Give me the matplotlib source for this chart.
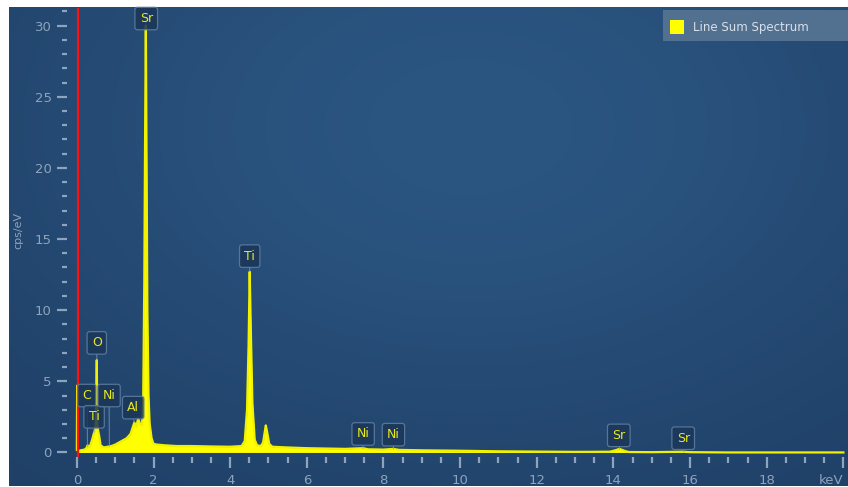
import matplotlib
matplotlib.use('Agg')
import matplotlib.pyplot as plt
from matplotlib.patches import Rectangle
import numpy as np

# spectrum (keV, cps/eV)
energy = [0.0, 0.008, 0.015, 0.025, 0.05, 0.1, 0.2, 0.25, 0.28, 0.31, 0.35, 0.40,
          0.45, 0.48, 0.50, 0.52, 0.535, 0.55, 0.58, 0.62, 0.7, 0.8, 0.9, 1.0,
          1.1, 1.2, 1.3, 1.4, 1.45, 1.5, 1.55, 1.6, 1.65, 1.7, 1.73, 1.76, 1.78,
          1.80, 1.82, 1.84, 1.87, 1.9, 1.95, 2.0, 2.1, 2.3, 2.6, 3.0, 3.5, 4.0,
          4.3, 4.38, 4.44, 4.48, 4.51, 4.54, 4.58, 4.64, 4.7, 4.8, 4.86, 4.90,
          4.93, 4.96, 5.02, 5.1, 5.5, 6.0, 7.0, 7.47, 7.6, 8.0, 8.26, 8.4, 9.0,
          10.0, 11.0, 12.0, 13.0, 13.9, 14.05, 14.16, 14.3, 14.4, 15.0, 15.8,
          16.0, 16.5, 17.0, 20.0]
counts = [0.2, 4.7, 0.4, 0.1, 0.1, 0.15, 0.2, 0.3, 0.5, 0.35, 0.5, 0.9,
          1.4, 1.6, 2.5, 6.5, 2.0, 1.6, 1.2, 0.5, 0.35, 0.4, 0.45, 0.55,
          0.7, 0.85, 1.0, 1.3, 1.7, 2.1, 1.8, 2.4, 2.0, 1.9, 3.5, 12.0, 22.0,
          30.0, 20.0, 10.0, 4.0, 2.0, 1.0, 0.6, 0.55, 0.5, 0.45, 0.45, 0.42, 0.4,
          0.45, 0.8, 3.0, 7.5, 12.7, 8.5, 3.5, 0.9, 0.5, 0.45, 0.7, 1.4,
          1.9, 1.5, 0.6, 0.4, 0.35, 0.3, 0.25, 0.3, 0.22, 0.2, 0.25, 0.18, 0.15,
          0.12, 0.08, 0.06, 0.04, 0.05, 0.15, 0.25, 0.1, 0.03, 0.02, 0.05,
          0.02, 0.01, 0.0, 0.0]

# element markers: text, box centre (keV, cps), tip of pointer (cps)
mark_text = ['Sr', 'Ti', 'O', 'C', 'Ti', 'Ni', 'Al', 'Ni', 'Ni', 'Sr', 'Sr']
mark_x = [1.81, 4.51, 0.52, 0.26, 0.45, 0.84, 1.47, 7.47, 8.26, 14.14, 15.82]
mark_y = [30.5, 13.8, 7.7, 4.0, 2.5, 4.0, 3.15, 1.3, 1.25, 1.2, 1.0]
tip_x = [1.80, 4.51, 0.52, 0.28, 0.45, 0.85, 1.49, 7.47, 8.26, 14.16, 15.84]
tip_y = [30.0, 12.7, 6.5, 0.4, 1.4, 0.45, 2.1, 0.3, 0.25, 0.25, 0.05]

x_major = [0, 2, 4, 6, 8, 10, 12, 14, 16, 18, 20]
x_labels = ['0', '2', '4', '6', '8', '10', '12', '14', '16', '18', 'keV']
y_major = [0, 5, 10, 15, 20, 25, 30]

W, H = 848, 487
fig = plt.figure(figsize=(W / 100, H / 100), dpi=100, facecolor='white')

# panel background with soft gradient
px0, py0, px1, py1 = 9, 7, 848, 486
bg = fig.add_axes([px0 / W, 1 - py1 / H, (px1 - px0) / W, (py1 - py0) / H])
gx, gy = np.meshgrid(np.linspace(0, 1, 300), np.linspace(0, 1, 200))
f = np.exp(-(((gx - 0.55) / 0.6) ** 2 + ((gy - 0.25) / 0.7) ** 2))
edge = np.array([30, 61, 99]) / 255
centre = np.array([43, 86, 130]) / 255
img = edge + f[..., None] * (centre - edge)
bg.imshow(img, aspect='auto', extent=[0, 1, 1, 0])
bg.set_axis_off()
bg.set_zorder(0)

# main axes
ax_l, ax_r, ax_t, ax_b = 66.5, 848, 8, 457
ax = fig.add_axes([ax_l / W, 1 - ax_b / H, (ax_r - ax_l) / W, (ax_b - ax_t) / H])
ax.set_zorder(1)
ax.patch.set_alpha(0)
ax.set_xlim(-0.27, 20.12)
ax.set_ylim(-0.32, 31.24)
for s in ax.spines.values():
    s.set_visible(False)

tick_c = '#8ea3bc'
ax.set_xticks(x_major)
ax.set_xticklabels(x_labels)
ax.set_xticks(np.arange(0, 20.01, 0.5), minor=True)
ax.set_yticks(y_major)
ax.set_yticks(np.arange(0, 31.01, 1), minor=True)
ax.tick_params(axis='both', which='both', colors=tick_c, labelsize=9.5, width=1.6)
ax.tick_params(axis='x', which='major', length=8, pad=4)
ax.tick_params(axis='x', which='minor', length=4.5)
ax.tick_params(axis='y', which='major', length=7.5, pad=3)
ax.tick_params(axis='y', which='minor', length=3.5)
ax.get_xticklabels()[-1].set_ha('right')

ax.fill_between(energy, 0, counts, color='#ffff00', lw=0, zorder=2)
ax.plot(energy, counts, color='#f2f200', lw=1.6, zorder=2)

ax.axvline(0.04, color='#ff1010', lw=1.6, zorder=3)

for t, bx, by, tx, ty in zip(mark_text, mark_x, mark_y, tip_x, tip_y):
    ax.annotate(t, xy=(tx, ty), xytext=(bx, by), ha='center', va='center',
                fontsize=9, color='#e8e820', zorder=4,
                bbox=dict(boxstyle='round,pad=0.38,rounding_size=0.2',
                          fc='#1b3658', ec='#5f7fa3', lw=0.9, alpha=0.85),
                arrowprops=dict(arrowstyle='-', color='#7d98b8', lw=0.8,
                                alpha=0.7, shrinkA=0, shrinkB=0))

fig.text(18 / W, 1 - 230 / H, 'cps/eV', rotation=90, ha='center', va='center',
         fontsize=8, color=tick_c)

# legend box in the top right
fig.patches.append(Rectangle((663 / W, 1 - 41 / H), (W - 663) / W, 31 / H,
                             transform=fig.transFigure, fc='#52708f', ec='none',
                             zorder=5))
fig.patches.append(Rectangle((670 / W, 1 - 34 / H), 14 / W, 14 / H,
                             transform=fig.transFigure, fc='#ffff00', ec='none',
                             zorder=6))
fig.text(693 / W, 1 - 27 / H, 'Line Sum Spectrum', ha='left', va='center',
         fontsize=8.5, color='#d8e0ea', zorder=6)

fig.savefig('out.png', dpi=100, facecolor='white')
